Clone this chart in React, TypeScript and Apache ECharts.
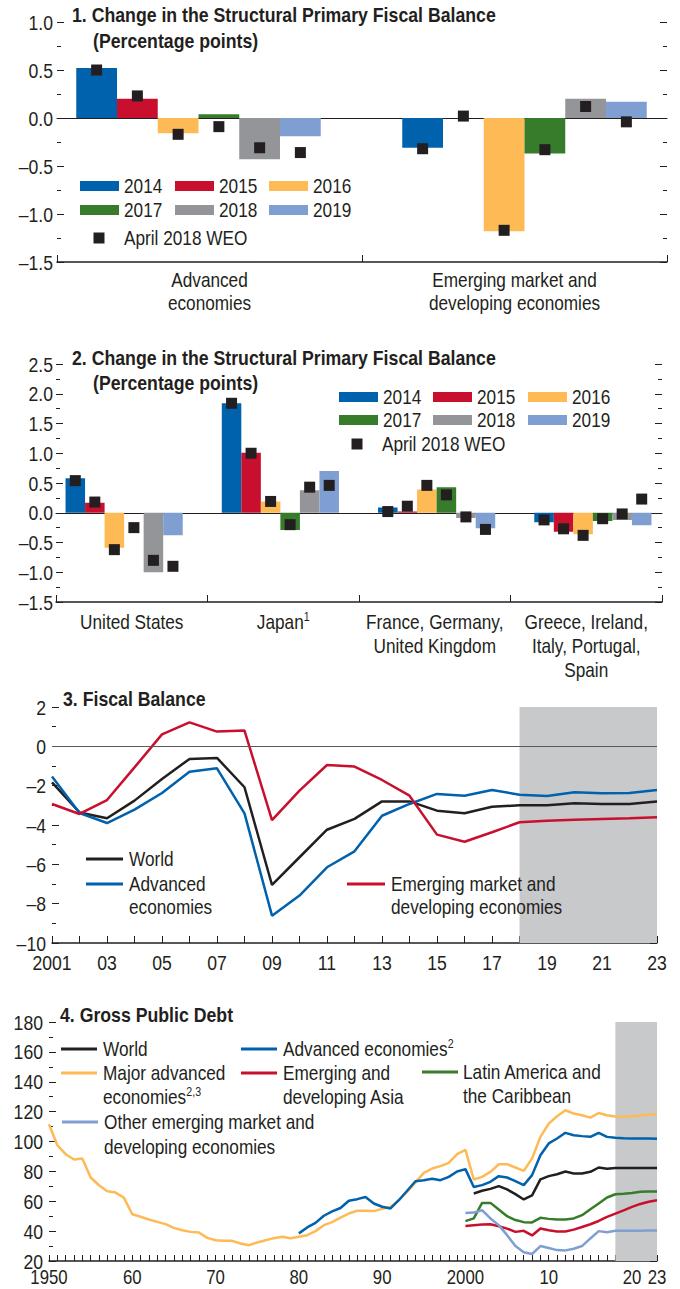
import React, { useEffect, useRef } from 'react';
import * as echarts from 'echarts';

const FONT = "'Liberation Sans', Arial, sans-serif";
const INK = '#231f20';
const SHADE = '#c8c9cb';
const NARROW = 0.82; // horizontal squeeze to mimic a condensed face
const TICK_NARROW = 0.84;
const TITLE_NARROW = 0.885;

// ---------- Panels 1 & 2: bar data ----------
const barYears = ['2014', '2015', '2016', '2017', '2018', '2019'];
const barColors = ['#0061ad', '#c8102e', '#fdba55', '#367c2b', '#939598', '#7f9fd3'];
const weoName = 'April 2018 WEO';

const p1Categories = ['Advanced\neconomies', 'Emerging market and\ndeveloping economies'];
const p1Advanced = [0.52, 0.2, -0.16, 0.04, -0.43, -0.19];
const p1AdvancedWeo = [0.5, 0.23, -0.17, -0.09, -0.31, -0.36];
const p1Emerging = [-0.31, 0.0, -1.18, -0.37, 0.2, 0.17];
const p1EmergingWeo = [-0.32, 0.02, -1.17, -0.33, 0.12, -0.04];

const p2Categories = ['United States', 'Japan{sup|1}', 'France, Germany,\nUnited Kingdom', 'Greece, Ireland,\nItaly, Portugal,\nSpain'];
const p2US = [0.58, 0.17, -0.59, 0.0, -1.0, -0.38];
const p2USWeo = [0.54, 0.18, -0.62, -0.25, -0.8, -0.9];
const p2Japan = [1.84, 1.01, 0.19, -0.29, 0.38, 0.7];
const p2JapanWeo = [1.84, 1.0, 0.19, -0.2, 0.43, 0.46];
const p2FGU = [0.09, 0.02, 0.39, 0.43, -0.09, -0.26];
const p2FGUWeo = [0.02, 0.11, 0.46, 0.3, -0.07, -0.28];
const p2GIIPS = [-0.16, -0.32, -0.36, -0.14, -0.12, -0.21];
const p2GIIPSWeo = [-0.12, -0.27, -0.38, -0.1, -0.02, 0.23];

// ---------- Panel 3: fiscal balance ----------
const p3Years = [2001, 2002, 2003, 2004, 2005, 2006, 2007, 2008, 2009, 2010, 2011, 2012, 2013, 2014, 2015, 2016, 2017, 2018, 2019, 2020, 2021, 2022, 2023];
const p3World = [-1.83, -3.36, -3.66, -2.76, -1.66, -0.64, -0.59, -2.08, -7.05, -5.64, -4.24, -3.69, -2.8, -2.8, -3.27, -3.4, -3.07, -3.0, -3.0, -2.9, -2.93, -2.93, -2.81];
const p3Advanced = [-1.53, -3.39, -3.9, -3.22, -2.37, -1.29, -1.12, -3.41, -8.61, -7.59, -6.15, -5.34, -3.53, -2.93, -2.42, -2.51, -2.22, -2.46, -2.53, -2.34, -2.39, -2.37, -2.22];
const p3Emerging = [-2.93, -3.44, -2.73, -1.07, 0.61, 1.22, 0.75, 0.8, -3.75, -2.25, -0.95, -1.03, -1.71, -2.51, -4.49, -4.85, -4.37, -3.86, -3.78, -3.73, -3.69, -3.66, -3.61];
const p3Names = ['World', 'Advanced\neconomies', 'Emerging market and\ndeveloping economies'];
const p3Colors = [INK, '#0061ad', '#c8102e'];
const p3ProjectionStart = 2018;

// ---------- Panel 4: gross public debt ----------
const p4Years = [1950, 2023];
const p4MajorStart = 1950;
const p4MajorAdvanced = [111.5, 97.5, 91.5, 87.9, 88.6, 75.9, 70.7, 66.7, 65.8, 62.3, 51.3, 49.6, 47.8, 46.2, 44.7, 42.2, 40.6, 39.5, 39.1, 35.5, 33.9, 33.5, 33.5, 31.7, 30.6, 32.4, 33.9, 35.3, 36.2, 35.3, 36.2, 37.3, 40.0, 44.0, 46.0, 49.0,
  51.8, 53.6, 53.6, 53.4, 54.9, 56.2, 60.7, 66.3, 72.6, 79.0, 81.9, 83.5, 85.7, 91.5, 94.4,
  74.6, 76.3, 79.7, 84.8, 84.8, 82.6, 80.3, 88.6, 103.1, 112.0, 116.9, 120.9, 118.7, 117.6, 116.0, 119.1, 117.6, 116.7, 116.5, 116.9, 117.4, 118.0, 118.3];
const p4AdvancedStart = 1980;
const p4Advanced = [38.5, 42.5, 45.5, 50.3, 53.2, 55.5,
  60.3, 61.4, 62.9, 58.5, 56.3, 55.2, 60.7, 67.0, 73.4, 74.1, 75.0, 74.1, 76.3, 79.9, 81.5,
  69.6, 70.8, 73.0, 76.8, 75.9, 73.4, 70.8, 77.5, 90.8, 98.7, 102.0, 105.8, 104.2, 103.6, 103.1, 105.8, 103.1, 102.5, 102.2, 102.0, 102.0, 102.0, 101.8];
const p4WorldStart = 2001;
const p4World = [65.2, 67.0, 68.3, 70.1, 67.9, 64.8, 61.2, 63.9, 74.6, 76.8, 78.1, 79.9, 78.6, 78.6, 79.7, 82.6, 81.7, 82.2, 82.2, 82.2, 82.3, 82.3, 82.2];
const p4EmStart = 2000;
const p4EmergingAsia = [43.5, 44.0, 44.4, 44.6, 43.3, 41.7, 39.5, 40.2, 37.1, 41.7, 40.6, 39.7, 39.7, 41.0, 42.8, 44.6, 46.8, 49.5, 51.7, 53.9, 56.2, 58.2, 59.7, 60.6];
const p4LatinAmerica = [46.7, 48.5, 58.9, 58.9, 54.5, 50.0, 47.4, 46.0, 45.8, 48.9, 48.2, 47.8, 47.8, 48.5, 50.7, 54.7, 58.5, 62.5, 64.7, 65.0, 65.6, 66.3, 66.5, 66.5];
const p4OtherEM = [52.2, 52.4, 54.0, 48.5, 44.0, 37.3, 30.0, 25.8, 24.7, 30.0, 28.7, 27.3, 27.1, 28.2, 30.0, 35.1, 40.0, 39.3, 40.2, 40.2, 40.3, 40.3, 40.4, 40.4];
const p4XLabelYears = [1950, 1960, 1970, 1980, 1990, 2000, 2010, 2020, 2023];
const p4XLabelText = ['1950', '60', '70', '80', '90', '2000', '10', '20', '23'];
const p4ProjectionStart = 2018;

const catGap = 0.25;

const tickLine = { color: INK, width: 1 };
const dash = (v: number, digits: number) => (v < 0 ? '\u2013' : '') + Math.abs(v).toFixed(digits);

const supRich = { sup: { fontSize: 13, lineHeight: 14, verticalAlign: 'top', fontFamily: FONT, fill: INK } };

// ---------- axis builders ----------
function yPair(grid: number, min: number, max: number, interval: number) {
  const common: any = {
    type: 'value', gridIndex: grid, min, max, interval,
    splitLine: { show: false },
    axisLine: { show: false },
    axisLabel: { show: false },
    axisTick: { show: true, inside: true, length: 7, lineStyle: tickLine },
    minorTick: { show: true, splitNumber: 2, length: 4, lineStyle: tickLine },
    minorSplitLine: { show: false },
  };
  return [{ ...common, position: 'left' }, { ...common, position: 'right' }];
}
const hiddenY = (grid: number, min: number, max: number) => ({ type: 'value', gridIndex: grid, min, max, show: false });

function catAxis(grid: number, data: string[]) {
  return {
    type: 'category', gridIndex: grid, data, boundaryGap: true,
    axisLine: { onZero: false, lineStyle: { color: INK, width: 1.5 } },
    axisTick: { show: true, inside: true, length: 7, alignWithLabel: false, interval: 0, lineStyle: tickLine },
    axisLabel: { show: false },
    splitLine: { show: false },
  };
}
const zeroAxis = (grid: number) => ({
  type: 'value', gridIndex: grid, min: 0, max: 1, position: 'bottom',
  axisLine: { show: true, onZero: true, lineStyle: { color: INK, width: 1 } },
  axisTick: { show: false }, axisLabel: { show: false }, splitLine: { show: false },
});
const hiddenCat = (grid: number, data: string[]) => ({ type: 'category', gridIndex: grid, data, boundaryGap: true, show: false });
const hiddenVal = (grid: number, max: number) => ({ type: 'value', gridIndex: grid, min: 0, max, show: false });

function yearAxis(grid: number, min: number, max: number, tickLen: number) {
  return {
    type: 'value', gridIndex: grid, min, max, interval: 1,
    splitLine: { show: false },
    axisLine: { onZero: false, lineStyle: { color: INK, width: 1.5 } },
    axisTick: { show: true, inside: true, length: tickLen, lineStyle: tickLine },
    axisLabel: { show: false },
  };
}

// ---------- series builders ----------
function barSeries(xCat: number, xOv: number, yIdx: number, cats: number[][], weos: number[][]) {
  const out: any[] = barYears.map((yr, i) => ({
    type: 'bar', name: yr, xAxisIndex: xCat, yAxisIndex: yIdx,
    data: cats.map((c) => c[i]),
    barGap: '0%', barCategoryGap: `${catGap * 100}%`,
    itemStyle: { color: barColors[i] },
    silent: true,
  }));
  const n = barYears.length;
  const pts: number[][] = [];
  weos.forEach((w, c) => w.forEach((v, i) => pts.push([c + catGap / 2 + ((i + 0.5) * (1 - catGap)) / n, v])));
  out.push({
    type: 'scatter', name: weoName, xAxisIndex: xOv, yAxisIndex: yIdx, data: pts,
    symbol: 'rect', symbolSize: 11, itemStyle: { color: INK, opacity: 1 }, z: 5, silent: true,
  });
  return out;
}

const pairs = (start: number, vals: number[]) => vals.map((v, i) => [start + i, v]);

function lineSeries(name: string, color: string, xIdx: number, yIdx: number, data: number[][], extra: any = {}) {
  return {
    type: 'line', name, xAxisIndex: xIdx, yAxisIndex: yIdx, data,
    showSymbol: false, symbol: 'none', silent: true,
    lineStyle: { color, width: 2.5 }, itemStyle: { color },
    ...extra,
  };
}

// ---------- graphic helpers ----------
function txt(x: number, y: number, text: string, opts: any = {}, scale = NARROW) {
  return {
    type: 'text', x, y, scaleX: scale, z: 100, silent: true,
    style: {
      text, fill: INK, fontSize: 21, fontFamily: FONT, align: 'left', verticalAlign: 'middle',
      lineHeight: 23, rich: supRich, ...opts,
    },
  };
}
function mtxt(x: number, firstY: number, text: string, lh: number, align = 'left') {
  return txt(x, firstY - lh / 2, text, { verticalAlign: 'top', lineHeight: lh, align });
}
function swatch(x: number, y: number, color: string) {
  return { type: 'rect', z: 100, silent: true, shape: { x, y: y - 5, width: 39, height: 10 }, style: { fill: color } };
}
function lineKey(x1: number, x2: number, y: number, color: string) {
  return { type: 'line', z: 100, silent: true, shape: { x1, y1: y, x2, y2: y }, style: { stroke: color, lineWidth: 3 } };
}
function weoKey(cx: number, cy: number) {
  return { type: 'rect', z: 100, silent: true, shape: { x: cx - 5.5, y: cy - 5.5, width: 11, height: 11 }, style: { fill: INK } };
}
function barLegend(colX: number[], rowY: number[], weoY: number, weoX: number, textX: number) {
  const els: any[] = [];
  barYears.forEach((yr, i) => {
    const c = i % 3;
    const r = Math.floor(i / 3);
    els.push(swatch(colX[c], rowY[r], barColors[i]));
    els.push(txt(colX[c] + 44, rowY[r], yr));
  });
  els.push(weoKey(weoX, weoY));
  els.push(txt(textX, weoY, weoName));
  return els;
}

function staticGraphics(): any[] {
  const t = { fontWeight: 'bold', fontSize: 20 };
  return [
    txt(72, 15, '1. Change in the Structural Primary Fiscal Balance', t, TITLE_NARROW),
    txt(93, 41, '(Percentage points)', t, TITLE_NARROW),
    txt(72, 358, '2. Change in the Structural Primary Fiscal Balance', t, TITLE_NARROW),
    txt(93, 383, '(Percentage points)', t, TITLE_NARROW),
    txt(63, 699, '3. Fiscal Balance', t, TITLE_NARROW),
    txt(60, 1015, '4. Gross Public Debt', t, TITLE_NARROW),
    ...barLegend([80, 175, 269], [186, 210], 238, 99, 124),
    ...barLegend([339, 433, 528], [397, 420], 444, 357, 382),
    lineKey(86, 123, 859, p3Colors[0]), txt(129, 859, p3Names[0]),
    lineKey(86, 123, 884, p3Colors[1]), mtxt(129, 884, p3Names[1], 23),
    lineKey(347, 385, 884, p3Colors[2]), mtxt(391, 884, p3Names[2], 23),
    lineKey(61, 97, 1049, INK), txt(103, 1049, 'World'),
    lineKey(241, 277, 1049, '#0061ad'), txt(283, 1049, 'Advanced economies{sup|2}'),
    lineKey(61, 97, 1073, '#fdba55'), mtxt(103, 1073, 'Major advanced\neconomies{sup|2,3}', 24),
    lineKey(241, 277, 1073, '#c8102e'), mtxt(283, 1073, 'Emerging and\ndeveloping Asia', 24),
    lineKey(422, 458, 1072, '#367c2b'), mtxt(463, 1072, 'Latin America and\nthe Caribbean', 24),
    lineKey(62, 98, 1122, '#7f9fd3'), mtxt(104, 1122, 'Other emerging market and\ndeveloping economies', 25),
  ];
}

// axis index bookkeeping
const X = { p1Cat: 0, p1Zero: 1, p1BarCat: 2, p1BarVal: 3, p2Cat: 4, p2Zero: 5, p2BarCat: 6, p2BarVal: 7, p3: 8, p4: 9 };
const Y = { p1: 0, p1Bar: 2, p2: 3, p2Bar: 5, p3: 6, p4: 8 };

const yLabelSpecs = [
  { y: Y.p1, x: X.p1Zero, x0: 0, min: -1.5, max: 1.0, step: 0.5, digits: 1, margin: 4 },
  { y: Y.p2, x: X.p2Zero, x0: 0, min: -1.5, max: 2.5, step: 0.5, digits: 1, margin: 3 },
  { y: Y.p3, x: X.p3, x0: p3Years[0], min: -10, max: 2, step: 2, digits: 0, margin: 6 },
  { y: Y.p4, x: X.p4, x0: p4Years[0], min: 20, max: 180, step: 20, digits: 0, margin: 6 },
];

function axisLabelGraphics(chart: any): any[] {
  const px = (finder: any, v: number) => chart.convertToPixel(finder, v) as number;
  const out: any[] = [];
  const tick = (x: number, y: number, text: string, align: string, size = 21) =>
    txt(x, y, text, { align, fontSize: size, lineHeight: 17 }, TICK_NARROW);
  yLabelSpecs.forEach((s) => {
    const left = px({ xAxisIndex: s.x }, s.x0);
    const count = Math.round((s.max - s.min) / s.step);
    for (let k = 0; k <= count; k++) {
      const v = Math.round((s.min + k * s.step) * 100) / 100;
      out.push(tick(left - s.margin, px({ yAxisIndex: s.y }, v), dash(v, s.digits), 'right'));
    }
  });
  // category labels
  const cats = [
    { list: p1Categories, x: X.p1Zero, y: Y.p1, ymin: -1.5, gap: 6.5, lh: 23 },
    { list: p2Categories, x: X.p2Zero, y: Y.p2, ymin: -1.5, gap: 8, lh: 24 },
  ];
  cats.forEach((c) => {
    const base = px({ yAxisIndex: c.y }, c.ymin);
    c.list.forEach((label, i) => {
      const cx = px({ xAxisIndex: c.x }, (i + 0.5) / c.list.length);
      out.push(txt(cx, base + c.gap, label, { align: 'center', verticalAlign: 'top', lineHeight: c.lh }));
    });
  });
  // year labels panel 3
  const p3Base = px({ yAxisIndex: Y.p3 }, -10);
  p3Years.forEach((yr, i) => {
    if (i % 2 !== 0) return;
    out.push(tick(px({ xAxisIndex: X.p3 }, yr), p3Base + 19, i === 0 ? String(yr) : String(yr).slice(2), 'center'));
  });
  // year labels panel 4
  const p4Base = px({ yAxisIndex: Y.p4 }, 20);
  p4XLabelYears.forEach((yr, i) => {
    out.push(tick(px({ xAxisIndex: X.p4 }, yr), p4Base + 16, p4XLabelText[i], 'center', 20));
  });
  return out;
}

function buildOption(): any {
  const shade = (start: number, end: number) => ({
    silent: true, itemStyle: { color: SHADE, opacity: 1 }, label: { show: false },
    emphasis: { disabled: true },
    data: [[{ xAxis: start }, { xAxis: end }]],
  });
  const zeroLine = {
    silent: true, symbol: 'none', label: { show: false },
    lineStyle: { color: '#58595b', width: 1, type: 'solid' },
    emphasis: { disabled: true },
    data: [{ yAxis: 0 }],
  };
  const p3Data = [p3World, p3Advanced, p3Emerging];
  const g = (left: number, top: number, width: number, height: number) =>
    ({ left, top, width, height, containLabel: false, outerBoundsMode: 'none' });

  return {
    animation: false,
    backgroundColor: '#ffffff',
    textStyle: { fontFamily: FONT, color: INK },
    grid: [
      g(57, 22, 610, 240),
      g(56, 364, 606, 238),
      g(52, 707, 605, 236),
      g(49, 1022, 608, 239),
      g(35.5, 22, 652, 240), // bar layout band, panel 1
      g(46, 364, 625, 238), // bar layout band, panel 2
    ],
    xAxis: [
      catAxis(0, p1Categories),
      zeroAxis(0),
      hiddenCat(4, p1Categories),
      hiddenVal(4, p1Categories.length),
      catAxis(1, p2Categories),
      zeroAxis(1),
      hiddenCat(5, p2Categories),
      hiddenVal(5, p2Categories.length),
      yearAxis(2, p3Years[0], p3Years[p3Years.length - 1], 7),
      yearAxis(3, p4Years[0], p4Years[1], 6),
    ],
    yAxis: [
      ...yPair(0, -1.5, 1.0, 0.5),
      hiddenY(4, -1.5, 1.0),
      ...yPair(1, -1.5, 2.5, 0.5),
      hiddenY(5, -1.5, 2.5),
      ...yPair(2, -10, 2, 2),
      ...yPair(3, 20, 180, 20),
    ],
    series: [
      ...barSeries(X.p1BarCat, X.p1BarVal, Y.p1Bar, [p1Advanced, p1Emerging], [p1AdvancedWeo, p1EmergingWeo]),
      ...barSeries(X.p2BarCat, X.p2BarVal, Y.p2Bar, [p2US, p2Japan, p2FGU, p2GIIPS], [p2USWeo, p2JapanWeo, p2FGUWeo, p2GIIPSWeo]),
      ...p3Names.map((nm, i) =>
        lineSeries(nm.replace('\n', ' '), p3Colors[i], X.p3, Y.p3, pairs(p3Years[0], p3Data[i]),
          i === 0 ? { markArea: shade(p3ProjectionStart, p3Years[p3Years.length - 1]), markLine: zeroLine } : {})),
      lineSeries('Major advanced economies', '#fdba55', X.p4, Y.p4, pairs(p4MajorStart, p4MajorAdvanced), { markArea: shade(p4ProjectionStart, p4Years[1]) }),
      lineSeries('Advanced economies', '#0061ad', X.p4, Y.p4, pairs(p4AdvancedStart, p4Advanced)),
      lineSeries('World', INK, X.p4, Y.p4, pairs(p4WorldStart, p4World)),
      lineSeries('Latin America and the Caribbean', '#367c2b', X.p4, Y.p4, pairs(p4EmStart, p4LatinAmerica)),
      lineSeries('Emerging and developing Asia', '#c8102e', X.p4, Y.p4, pairs(p4EmStart, p4EmergingAsia)),
      lineSeries('Other emerging market and developing economies', '#7f9fd3', X.p4, Y.p4, pairs(p4EmStart, p4OtherEM)),
    ],
  };
}

export default function App() {
  const ref = useRef<HTMLDivElement>(null);
  useEffect(() => {
    if (!ref.current) return;
    const chart = echarts.init(ref.current, undefined, { renderer: 'svg' });
    chart.setOption(buildOption());
    chart.setOption({ graphic: { elements: [...staticGraphics(), ...axisLabelGraphics(chart)] } });
    return () => chart.dispose();
  }, []);
  return <div ref={ref} style={{ position: 'absolute', left: 0, top: 0, width: 680, height: 1289, background: '#fff' }} />;
}
